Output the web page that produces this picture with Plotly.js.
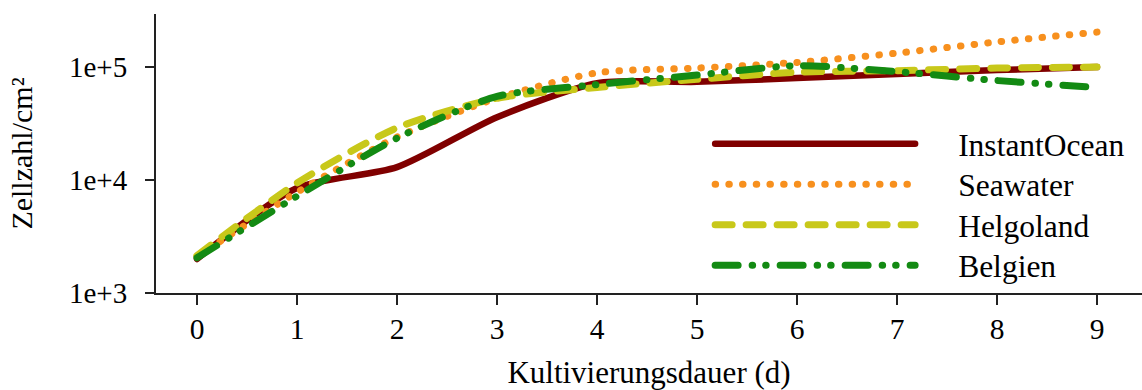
<!DOCTYPE html>
<html>
<head>
<meta charset="utf-8">
<script src="https://cdn.plot.ly/plotly-3.0.1.min.js"></script>
<style>
  html, body { margin: 0; padding: 0; background: #fff; }
  #chart { width: 1142px; height: 390px; }
  .js-line { stroke-linecap: round; stroke-linejoin: round; }
</style>
</head>
<body>
<div id="chart"></div>
<script>
const days = [0, 1, 2, 3, 4, 5, 6, 7, 8, 9];
const instantOcean = [2000, 8500, 13000, 36000, 72000, 74000, 80000, 87000, 94000, 100000];
const seawater = [2100, 7800, 24000, 53000, 89000, 98000, 110000, 133000, 167000, 204000];
const helgoland = [2150, 9400, 29000, 53000, 66000, 78000, 90000, 93000, 98000, 100000];
const belgien = [2050, 7200, 23500, 55000, 70000, 85000, 103000, 91000, 76000, 66000];
const seriesNames = ['InstantOcean', 'Seawater', 'Helgoland', 'Belgien'];
const yTickVals = [1000, 10000, 100000];
const yTickText = ['1e+3', '1e+4', '1e+5'];
const xTickVals = days;
const xTickText = ['0', '1', '2', '3', '4', '5', '6', '7', '8', '9'];

const FONT = '"Liberation Serif", "Times New Roman", serif';

const traces = [
  { x: days, y: instantOcean, name: seriesNames[0], type: 'scatter', mode: 'lines',
    line: { color: '#800000', width: 6.5, shape: 'spline', smoothing: 0.7 } },
  { x: days, y: seawater, name: seriesNames[1], type: 'scatter', mode: 'lines',
    line: { color: '#F7901E', width: 7, dash: '0.5px,13.2px', shape: 'spline', smoothing: 0.7 } },
  { x: days, y: helgoland, name: seriesNames[2], type: 'scatter', mode: 'lines',
    line: { color: '#C8C81A', width: 7, dash: '17px,14px', shape: 'spline', smoothing: 0.7 } },
  { x: days, y: belgien, name: seriesNames[3], type: 'scatter', mode: 'lines',
    line: { color: '#138A13', width: 7, dash: '23px,14px,0.5px,13px,0.5px,14px', shape: 'spline', smoothing: 0.7 } }
];

const layout = {
  width: 1142, height: 390,
  margin: { l: 156, r: 0, t: 14, b: 97, pad: 0 },
  paper_bgcolor: '#ffffff', plot_bgcolor: '#ffffff',
  font: { family: FONT, size: 29, color: '#000' },
  showlegend: true,
  legend: {
    x: 0.562, y: 0.632, xanchor: 'left', yanchor: 'top',
    bgcolor: 'rgba(0,0,0,0)', borderwidth: 0,
    itemwidth: 200,
    font: { family: FONT, size: 31.5, color: '#000' },
    tracegroupgap: 0
  },
  xaxis: {
    range: [-0.41, 9.45], showgrid: false, zeroline: false,
    showline: true, linecolor: '#222', linewidth: 2,
    ticks: 'outside', ticklen: 10, tickwidth: 2, tickcolor: '#222',
    tickvals: xTickVals, ticktext: xTickText,
    tickfont: { family: FONT, size: 29.5, color: '#000' },
    ticklabelstandoff: -1,
    title: { text: 'Kultivierungsdauer (d)', font: { family: FONT, size: 31, color: '#000' }, standoff: 18 },
    automargin: true
  },
  yaxis: {
    type: 'log', range: [3, 5.47], showgrid: false, zeroline: false,
    showline: true, linecolor: '#222', linewidth: 2,
    ticks: 'outside', ticklen: 9, tickwidth: 2, tickcolor: '#222',
    tickvals: yTickVals, ticktext: yTickText,
    tickfont: { family: FONT, size: 29, color: '#000' },
    ticklabelstandoff: 12,
    title: { text: 'Zellzahl/cm²', font: { family: FONT, size: 30, color: '#000' }, standoff: 27 },
    automargin: true
  }
};

Plotly.newPlot('chart', traces, layout, { staticPlot: true, displayModeBar: false }).then(function () {
  document.querySelectorAll('.legend [clip-path]').forEach(function (el) {
    el.removeAttribute('clip-path');
  });
  document.querySelectorAll('.legendtext').forEach(function (t) {
    const x = parseFloat(t.getAttribute('x')) || 0;
    t.setAttribute('x', x + 38);
  });
  // tighten legend row spacing to match the reference
  const items = Array.from(document.querySelectorAll('.legend .traces'));
  if (items.length) {
    const parse = function (el) {
      const m = /translate\(\s*([-\d.]+)[ ,]+([-\d.]+)\s*\)/.exec(el.getAttribute('transform') || '');
      return m ? [parseFloat(m[1]), parseFloat(m[2])] : [0, 0];
    };
    const first = parse(items[0]);
    items.forEach(function (el, i) {
      const p = parse(el);
      el.setAttribute('transform', 'translate(' + p[0] + ',' + (first[1] + i * 40.5) + ')');
    });
  }
});
</script>
</body>
</html>
